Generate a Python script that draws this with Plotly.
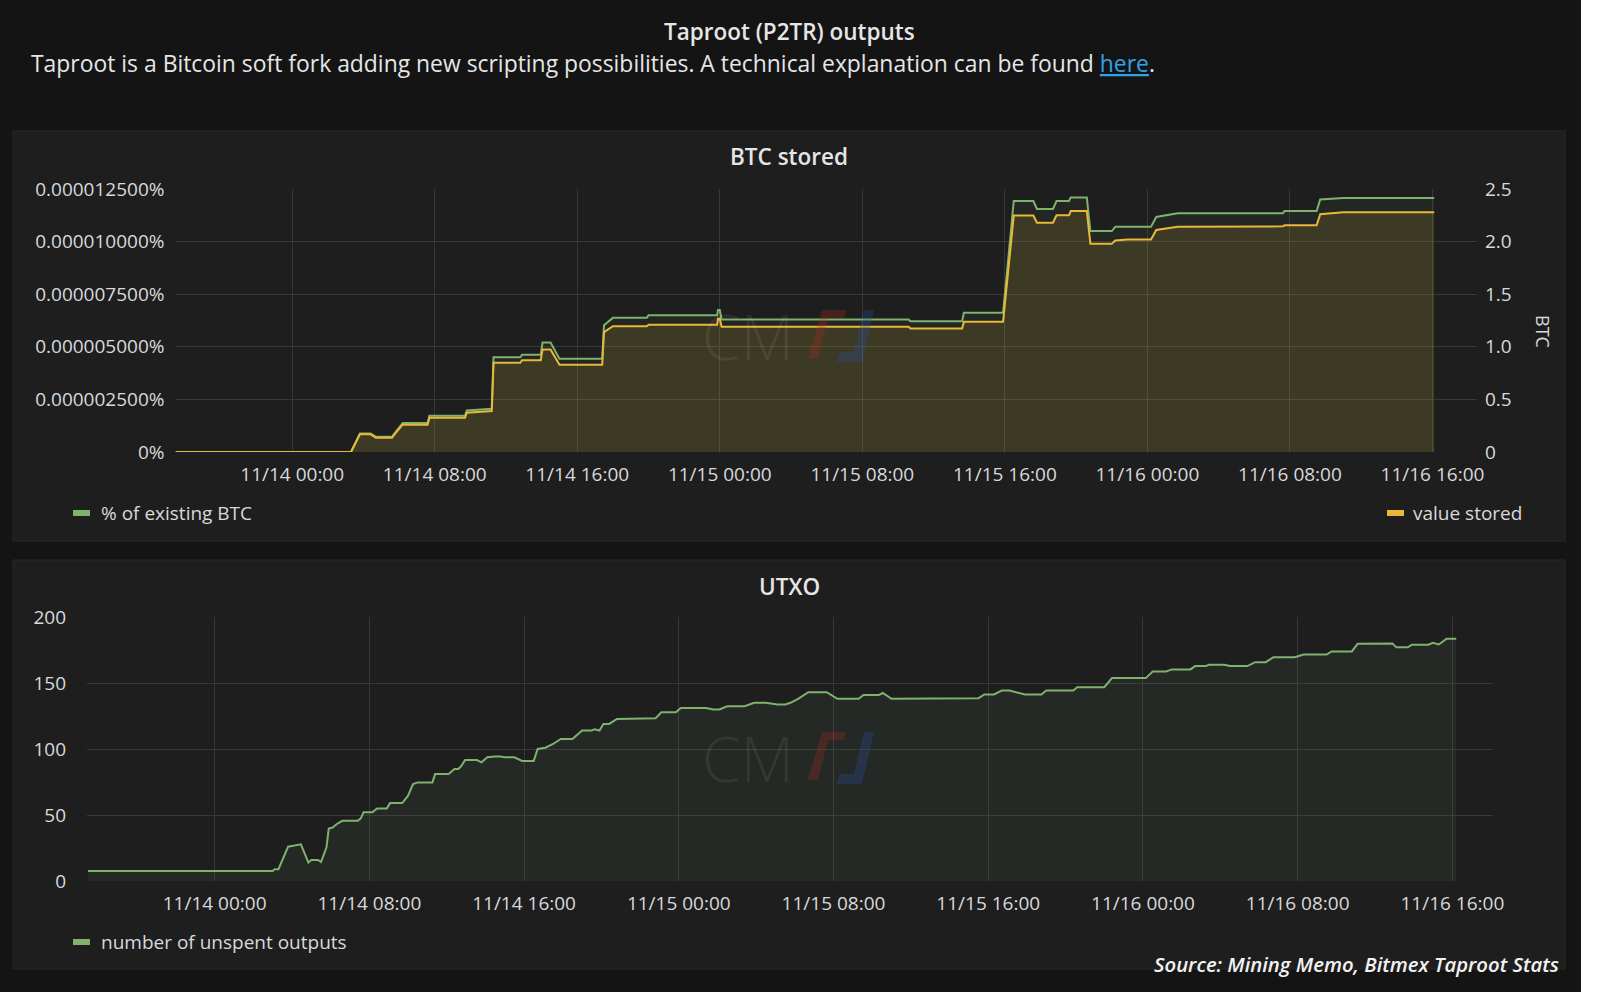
import pandas as pd
import plotly.graph_objects as go

# ---------------- data ----------------
BASE = "2021-11-14 00:00"

# hours relative to 11/14 00:00 for the BTC-stored panel
btc_hours = [-6.55, 3.3, 3.8, 4.4, 4.7, 5.6, 5.8, 6.2, 7.6, 7.7, 9.7, 9.8, 11.2, 11.3,
             12.8, 12.9, 13.95, 14.05, 14.5, 15.0, 17.4, 17.5, 18.0, 19.9, 20.0, 23.85,
             23.9, 24.0, 24.1, 34.6, 34.7, 37.6, 37.7, 39.9, 40.5, 41.6, 41.8, 42.7, 42.9,
             43.6, 43.7, 44.6, 44.8, 46.0, 46.2, 46.9, 48.2, 48.5, 49.7, 55.6, 55.7, 57.5,
             57.7, 59.0, 64.1]

# value stored (BTC, right axis)
value_stored = [0, 0, 0.168, 0.168, 0.136, 0.136, 0.18, 0.26, 0.26, 0.326, 0.326, 0.373,
                0.39, 0.848, 0.848, 0.873, 0.873, 0.975, 0.975, 0.83, 0.83, 1.14, 1.196,
                1.196, 1.21, 1.21, 1.266, 1.266, 1.19, 1.19, 1.174, 1.174, 1.237, 1.237,
                2.247, 2.247, 2.18, 2.18, 2.25, 2.25, 2.29, 2.29, 1.98, 1.98, 2.01, 2.02,
                2.02, 2.11, 2.14, 2.145, 2.155, 2.155, 2.26, 2.28, 2.28]

# % of existing BTC (left axis, in percent)
pct_existing = [0, 0, 8.85e-7, 8.85e-7, 7.25e-7, 7.25e-7, 9.5e-7, 1.375e-6, 1.375e-6,
                1.725e-6, 1.725e-6, 1.975e-6, 2.05e-6, 4.5e-6, 4.5e-6, 4.625e-6, 4.625e-6,
                5.2e-6, 5.2e-6, 4.43e-6, 4.43e-6, 6.03e-6, 6.375e-6, 6.375e-6, 6.5e-6,
                6.5e-6, 6.75e-6, 6.75e-6, 6.3e-6, 6.3e-6, 6.22e-6, 6.22e-6, 6.615e-6,
                6.615e-6, 1.193e-5, 1.193e-5, 1.155e-5, 1.155e-5, 1.193e-5, 1.193e-5,
                1.21e-5, 1.21e-5, 1.05e-5, 1.05e-5, 1.07e-5, 1.07e-5, 1.07e-5, 1.117e-5,
                1.135e-5, 1.135e-5, 1.145e-5, 1.145e-5, 1.2e-5, 1.2075e-5, 1.2075e-5]

# UTXO panel
utxo_hours = [-6.55, 3.0, 3.1, 3.3, 3.8, 4.46, 4.85, 5.0, 5.35, 5.5, 5.78, 5.9, 6.1, 6.3,
              6.6, 7.4, 7.55, 7.7, 8.15, 8.4, 8.9, 9.07, 9.7, 10.0, 10.26, 10.5, 11.26,
              11.4, 12.1, 12.4, 12.6, 12.75, 12.95, 13.56, 13.8, 14.1, 14.5, 14.75, 15.0,
              15.5, 15.9, 16.5, 16.7, 17.1, 17.5, 17.9, 18.5, 19.0, 19.5, 19.65, 19.9,
              20.1, 20.4, 20.8, 22.8, 23.1, 23.85, 24.1, 25.4, 25.8, 26.1, 26.5, 27.4,
              27.9, 28.5, 29.1, 29.5, 29.77, 30.17, 30.7, 31.65, 32.2, 33.3, 33.55, 34.36,
              34.55, 35.0, 37.07, 37.6, 39.5, 39.8, 40.3, 40.7, 41.1, 41.9, 42.75, 43.0,
              44.4, 44.6, 46.0, 46.4, 48.15, 48.5, 49.2, 49.5, 50.45, 50.7, 51.25, 51.4,
              52.2, 52.5, 53.4, 53.8, 54.35, 54.75, 55.85, 56.3, 57.5, 57.75, 58.8, 59.1,
              60.9, 61.1, 61.7, 61.9, 62.75, 63.0, 63.3, 63.7, 64.2]
utxo_count = [7.6, 7.6, 8.9, 8.9, 26, 27.8, 14, 16, 16, 14.4, 25.3, 39.7, 40.5, 43,
              45.6, 45.6, 47.3, 52, 52, 55, 55, 59, 59, 64.6, 73.4, 74.7, 74.7,
              81, 81, 84.8, 84.8, 87, 91.6, 91.6, 89.9, 93.7, 94.4, 94.4, 93.7,
              93.7, 91, 91, 100, 101, 103.8, 107.6, 107.6, 114, 114, 115, 114,
              119, 119, 122.8, 123.3, 127.8, 127.8, 131, 131, 129.9, 129.9, 132.4, 132.4,
              135, 135, 133.7, 133.7, 135, 138, 143, 143, 138, 138, 141, 141,
              142.5, 138, 138, 138.5, 138.5, 141.3, 141.3, 144.3, 144.3, 141.3, 141.3, 144.3,
              144.3, 146.8, 146.8, 153.7, 153.7, 158.7, 158.7, 160.3, 160.3, 162.8, 162.8, 163.8,
              163.8, 162.8, 162.8, 165.8, 165.8, 169.6, 169.6, 171.6, 171.6, 173.9, 173.9, 179.7,
              180, 177, 177, 179, 179, 180.5, 179.2, 183.5, 183.5]

pct_tickvals = [0, 2.5e-6, 5e-6, 7.5e-6, 1e-5, 1.25e-5]
pct_ticktext = ["0%", "0.000002500%", "0.000005000%", "0.000007500%", "0.000010000%", "0.000012500%"]
btc_tickvals = [0, 0.5, 1.0, 1.5, 2.0, 2.5]
btc_ticktext = ["0", "0.5", "1.0", "1.5", "2.0", "2.5"]
utxo_tickvals = [0, 50, 100, 150, 200]

# ---------------- styling ----------------
W, H = 1600, 992
PAGE = "#141414"
PANEL = "#1e1e1f"
BORDER = "#282828"
GRID = "#383838"
TXT = "#d8d9da"
GREEN = "#7eb26d"
YELLOW = "#eab839"
FONT = "Open Sans"


def px(x):
    return x / W


def py(y):
    return 1 - y / H


def to_time(hours):
    return pd.Timestamp(BASE) + pd.to_timedelta(hours, unit="h")


btc_t = to_time(btc_hours)
utxo_t = to_time(utxo_hours)

fig = go.Figure()
fig.add_trace(go.Scatter(x=btc_t, y=pct_existing, xaxis="x", yaxis="y", mode="lines",
                         line=dict(color=GREEN, width=2), fill="tozeroy",
                         fillcolor="rgba(126,178,109,0.06)", showlegend=False,
                         name="% of existing BTC"))
fig.add_trace(go.Scatter(x=btc_t, y=value_stored, xaxis="x", yaxis="y2", mode="lines",
                         line=dict(color=YELLOW, width=2), fill="tozeroy",
                         fillcolor="rgba(234,184,57,0.13)", showlegend=False,
                         name="value stored"))
fig.add_trace(go.Scatter(x=utxo_t, y=utxo_count, xaxis="x2", yaxis="y3", mode="lines",
                         line=dict(color=GREEN, width=2), fill="tozeroy",
                         fillcolor="rgba(126,178,109,0.08)", showlegend=False,
                         name="number of unspent outputs"))

tickfont = dict(family=FONT, size=19, color=TXT)
xcommon = dict(type="date", tick0=BASE, dtick=8 * 3600 * 1000, tickformat="%m/%d %H:%M",
               showgrid=True, gridcolor=GRID, gridwidth=1, zeroline=False, showline=False,
               ticks="", tickfont=tickfont, fixedrange=True, ticklabelstandoff=9,
               automargin=False)
ycommon = dict(showgrid=True, gridcolor=GRID, zeroline=False, showline=False, ticks="",
               tickfont=tickfont, fixedrange=True, automargin=False)

shapes = [
    # panels
    dict(type="rect", xref="paper", yref="paper", x0=px(13), x1=px(1565), y0=py(131), y1=py(541),
         fillcolor=PANEL, line=dict(color=BORDER, width=1), layer="below"),
    dict(type="rect", xref="paper", yref="paper", x0=px(13), x1=px(1565), y0=py(560), y1=py(969),
         fillcolor=PANEL, line=dict(color=BORDER, width=1), layer="below"),
    # white strip on the right edge
    dict(type="rect", xref="paper", yref="paper", x0=px(1581), x1=1, y0=0, y1=1,
         fillcolor="#ffffff", line=dict(width=0), layer="below"),
    # legend swatches
    dict(type="line", xref="paper", yref="paper", x0=px(73), x1=px(90), y0=py(513), y1=py(513),
         line=dict(color=GREEN, width=6)),
    dict(type="line", xref="paper", yref="paper", x0=px(1387), x1=px(1404), y0=py(513), y1=py(513),
         line=dict(color=YELLOW, width=6)),
    dict(type="line", xref="paper", yref="paper", x0=px(73), x1=px(90), y0=py(942), y1=py(942),
         line=dict(color=GREEN, width=6)),
]


def logo(x, y):
    # faint red / blue slanted watermark marks, (x, y) = top-left in pixels
    r = [(x + 2, y + 48), (x + 12, y + 48), (x + 22, y + 8), (x + 38, y + 8), (x + 40, y), (x + 16, y)]
    b = [(x + 30, y + 52), (x + 56, y + 52), (x + 68, y), (x + 58, y), (x + 48, y + 42), (x + 34, y + 42)]
    out = []
    for pts, col in ((r, "rgba(190,45,30,0.25)"), (b, "rgba(40,80,170,0.27)")):
        path = "M " + " L ".join(f"{px(a):.5f},{py(c):.5f}" for a, c in pts) + " Z"
        out.append(dict(type="path", xref="paper", yref="paper", path=path,
                        fillcolor=col, line=dict(width=0), layer="above"))
    return out


shapes += logo(806, 310)
shapes += logo(806, 732)

ann = []


def text(x, y, s, size=19, color=TXT, xanchor="center", weight=None, italic=False, angle=0):
    f = dict(family=FONT, size=size, color=color)
    if weight:
        f["weight"] = weight
    if italic:
        f["style"] = "italic"
    ann.append(dict(x=px(x), y=py(y), xref="paper", yref="paper", text=s, showarrow=False,
                    xanchor=xanchor, yanchor="middle", font=f, textangle=angle))


text(789, 31, "Taproot (P2TR) outputs", size=22.5, color="#e6e6e6", weight=600)
text(29, 64, "Taproot is a Bitcoin soft fork adding new scripting possibilities. A technical explanation can be found "
     "<a href='https://github.com/bitcoin/bips/blob/master/bip-0341.mediawiki' style='color:#33a2e5'>"
     "<span style='text-decoration:underline'>here</span></a>.", size=22.9, color="#e6e6e6", xanchor="left")
text(789, 157, "BTC stored", size=22.5, color="#e6e6e6", weight=600)
text(789, 586, "UTXO", size=22.5, color="#e6e6e6", weight=600)
text(99, 513, "% of existing BTC", size=19, xanchor="left")
text(1411, 513, "value stored", size=19, xanchor="left")
text(99, 942, "number of unspent outputs", size=19, xanchor="left")
text(1543, 331, "BTC", size=18, angle=90)
text(1561, 964, "Source: Mining Memo, Bitmex Taproot Stats", size=20.3, color="#f2f2f2",
     xanchor="right", weight=600, italic=True)
# watermark letters
text(748, 336, "CM", size=62, color="rgba(255,255,255,0.07)", weight=300)
text(748, 758, "CM", size=62, color="rgba(255,255,255,0.07)", weight=300)

fig.update_layout(
    width=W, height=H, autosize=False,
    margin=dict(l=0, r=0, t=0, b=0, pad=0, autoexpand=False),
    paper_bgcolor=PAGE, plot_bgcolor="rgba(0,0,0,0)",
    font=dict(family=FONT, color=TXT),
    showlegend=False,
    hovermode=False,
    xaxis=dict(**xcommon, domain=[px(175.5), px(1477)], anchor="y",
               range=[to_time(-6.55), to_time(66.5)]),
    yaxis=dict(**ycommon, domain=[py(452), py(189)], range=[0, 1.25e-5],
               tickvals=pct_tickvals, ticktext=pct_ticktext, anchor="x",
               ticklabelstandoff=10),
    yaxis2=dict(overlaying="y", side="right", anchor="x", range=[0, 2.5],
                tickvals=btc_tickvals, ticktext=btc_ticktext, showgrid=False,
                zeroline=False, showline=False, ticks="", tickfont=tickfont,
                fixedrange=True, automargin=False, ticklabelstandoff=7),
    xaxis2=dict(**xcommon, domain=[px(87), px(1493)], anchor="y3",
                range=[to_time(-6.6), to_time(66.1)]),
    yaxis3=dict(**ycommon, domain=[py(881), py(617)], range=[0, 200],
                tickvals=utxo_tickvals, anchor="x2", ticklabelstandoff=20),
    shapes=shapes,
    annotations=ann,
)

fig.write_html("out.html", config=dict(displayModeBar=False))
